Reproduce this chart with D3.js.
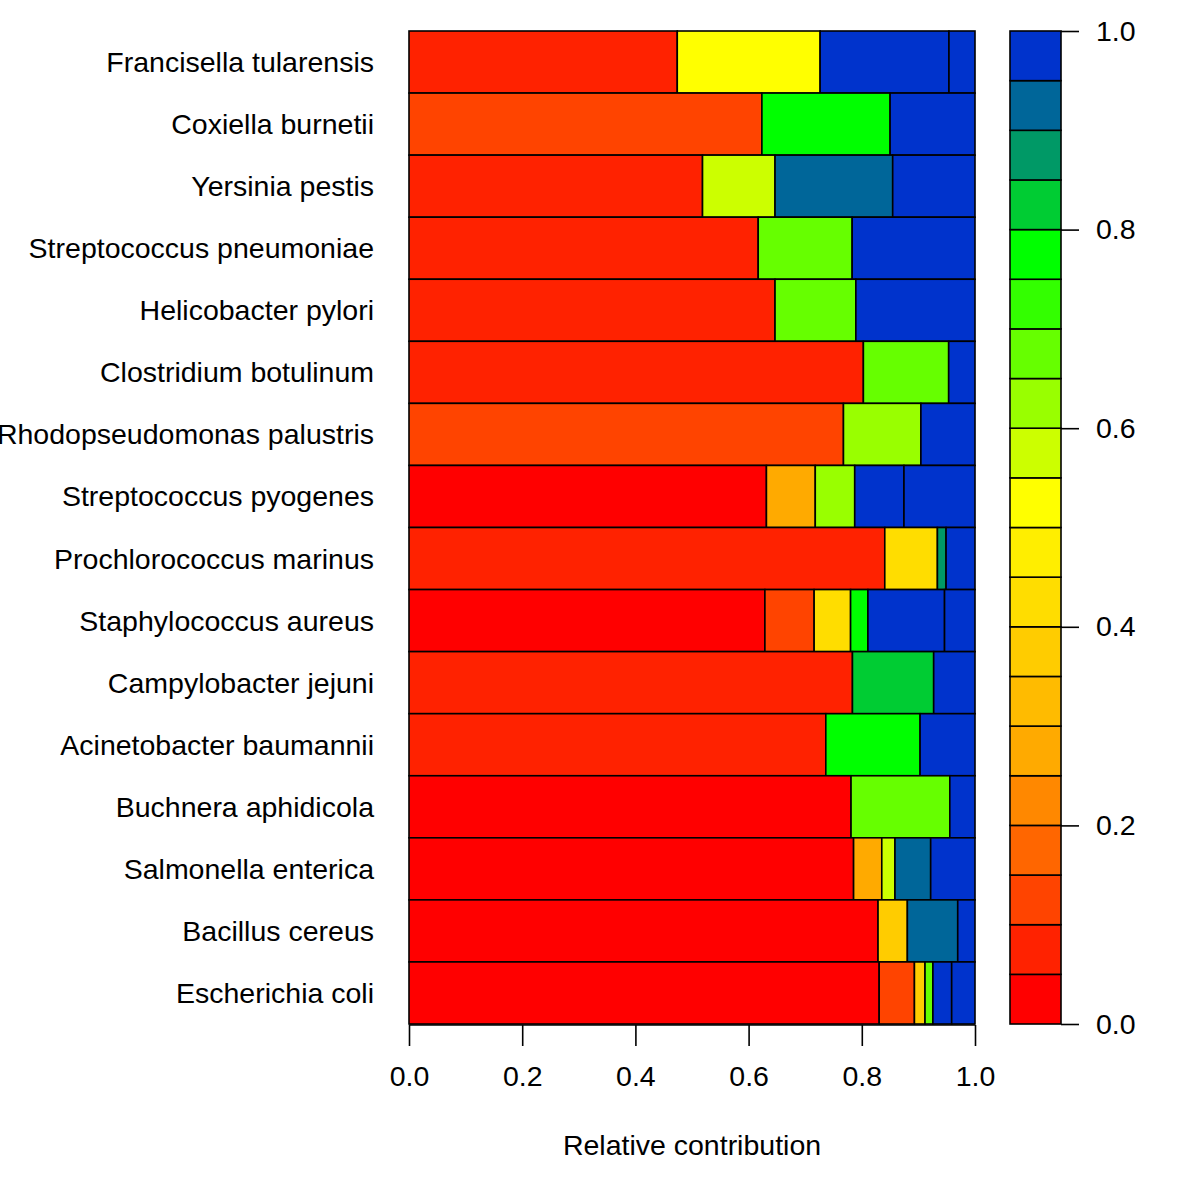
<!DOCTYPE html>
<html>
<head>
<meta charset="utf-8">
<script src="https://cdn.jsdelivr.net/npm/d3@7"></script>
<style>
  html, body { margin: 0; padding: 0; background: #fff; }
  svg { display: block; font-family: "Liberation Sans", Arial, Helvetica, sans-serif; }
</style>
</head>
<body>
<svg id="chart" width="1200" height="1200"></svg>
<script>
// ---- Data (top to bottom) ----
const species = [
  "Francisella tularensis", "Coxiella burnetii", "Yersinia pestis",
  "Streptococcus pneumoniae", "Helicobacter pylori", "Clostridium botulinum",
  "Rhodopseudomonas palustris", "Streptococcus pyogenes", "Prochlorococcus marinus",
  "Staphylococcus aureus", "Campylobacter jejuni", "Acinetobacter baumannii",
  "Buchnera aphidicola", "Salmonella enterica", "Bacillus cereus", "Escherichia coli"
];

// relative contribution of each segment (left to right)
const segWidths = [
  [0.474, 0.2524, 0.2276, 0.046],
  [0.6235, 0.2265, 0.150],
  [0.5186, 0.1281, 0.2079, 0.1454],
  [0.617, 0.166, 0.217],
  [0.6467, 0.1428, 0.2105],
  [0.8028, 0.1507, 0.0465],
  [0.7676, 0.1368, 0.0956],
  [0.6315, 0.0863, 0.0697, 0.087, 0.1255],
  [0.8406, 0.093, 0.0153, 0.0511],
  [0.6288, 0.087, 0.0644, 0.0306, 0.1354, 0.0538],
  [0.7835, 0.1435, 0.073],
  [0.7364, 0.1666, 0.097],
  [0.781, 0.1745, 0.0445],
  [0.7855, 0.0498, 0.0233, 0.0631, 0.0783],
  [0.8287, 0.0518, 0.089, 0.0305],
  [0.8307, 0.0623, 0.0187, 0.0139, 0.0332, 0.0412]
];

// score of each segment (drives colour through the colour bar)
const segScores = [
  [0.075, 0.525, 0.975, 0.975],
  [0.125, 0.775, 0.975],
  [0.075, 0.575, 0.925, 0.975],
  [0.075, 0.675, 0.975],
  [0.075, 0.675, 0.975],
  [0.075, 0.675, 0.975],
  [0.125, 0.625, 0.975],
  [0.025, 0.275, 0.625, 0.975, 0.975],
  [0.075, 0.425, 0.875, 0.975],
  [0.025, 0.125, 0.425, 0.775, 0.975, 0.975],
  [0.075, 0.825, 0.975],
  [0.075, 0.775, 0.975],
  [0.025, 0.675, 0.975],
  [0.025, 0.275, 0.575, 0.925, 0.975],
  [0.025, 0.375, 0.925, 0.975],
  [0.025, 0.125, 0.375, 0.675, 0.975, 0.975]
];

const palette = [
  "#FF0000", "#FF2200", "#FF4400", "#FF6600", "#FF8800",
  "#FFAA00", "#FFBB00", "#FFCC00", "#FFDD00", "#FFEE00",
  "#FFFF00", "#CCFF00", "#99FF00", "#66FF00", "#33FF00",
  "#00FF00", "#00CC33", "#009966", "#006699", "#0033CC"
];

const xTicks = [0, 0.2, 0.4, 0.6, 0.8, 1.0];
const colorTicks = [0, 0.2, 0.4, 0.6, 0.8, 1.0];
const xTitle = "Relative contribution";

// ---- Layout ----
const svg = d3.select("#chart");
const plot = { left: 409, right: 975, top: 31, bottom: 1024 };
const cbar = { left: 1010, right: 1061 };
const FS = 28.5;

const x = d3.scaleLinear().domain([0, 1]).range([plot.left, plot.right]);
const y = d3.scaleBand().domain(species).range([plot.top, plot.bottom]).padding(0);
const color = d3.scaleQuantize().domain([0, 1]).range(palette);

// bars
const rows = species.map((sp, i) => {
  const cum = d3.cumsum(segWidths[i]);
  return segWidths[i].map((w, j) => ({
    sp, x0: cum[j] - w, x1: cum[j], score: segScores[i][j]
  }));
});

svg.append("g")
  .selectAll("g")
  .data(rows)
  .join("g")
  .selectAll("rect")
  .data(d => d)
  .join("rect")
  .attr("x", d => x(d.x0))
  .attr("y", d => y(d.sp))
  .attr("width", d => x(d.x1) - x(d.x0))
  .attr("height", y.bandwidth())
  .attr("fill", d => color(d.score))
  .attr("stroke", "#000")
  .attr("stroke-width", 1.6);

// category labels
svg.append("g")
  .selectAll("text")
  .data(species)
  .join("text")
  .attr("x", plot.left - 35)
  .attr("y", d => y(d) + y.bandwidth() / 2)
  .attr("dy", "0.35em")
  .attr("text-anchor", "end")
  .attr("font-size", FS)
  .attr("fill", "#000")
  .text(d => d);

// x axis
const xAxis = d3.axisBottom(x)
  .tickValues(xTicks)
  .tickFormat(d3.format(".1f"))
  .tickSize(21)
  .tickPadding(20);
const gx = svg.append("g")
  .attr("transform", `translate(0,${plot.bottom + 1})`)
  .call(xAxis);
gx.select(".domain").attr("d", `M${plot.left},0H${plot.right}`).attr("stroke", "#000").attr("stroke-width", 1.6);
gx.selectAll(".tick line").attr("stroke", "#000").attr("stroke-width", 1.6);
gx.selectAll(".tick text").attr("font-size", FS).attr("fill", "#000")
  .attr("font-family", "Liberation Sans, Arial, sans-serif");

svg.append("text")
  .attr("x", (plot.left + plot.right) / 2)
  .attr("y", 1155)
  .attr("text-anchor", "middle")
  .attr("font-size", FS)
  .attr("fill", "#000")
  .text(xTitle);

// colour bar
const cy = d3.scaleLinear().domain([0, 1]).range([plot.bottom, plot.top]);
const bins = palette.map((c, i) => ({ lo: i / palette.length, hi: (i + 1) / palette.length }));
svg.append("g")
  .selectAll("rect")
  .data(bins)
  .join("rect")
  .attr("x", cbar.left)
  .attr("y", d => cy(d.hi))
  .attr("width", cbar.right - cbar.left)
  .attr("height", d => cy(d.lo) - cy(d.hi))
  .attr("fill", d => color((d.lo + d.hi) / 2))
  .attr("stroke", "#000")
  .attr("stroke-width", 1.6);

const cAxis = d3.axisRight(cy)
  .tickValues(colorTicks)
  .tickFormat(d3.format(".1f"))
  .tickSize(18)
  .tickPadding(17);
const gc = svg.append("g")
  .attr("transform", `translate(${cbar.right},0)`)
  .call(cAxis);
gc.select(".domain").remove();
gc.selectAll(".tick line").attr("stroke", "#000").attr("stroke-width", 1.6);
gc.selectAll(".tick text").attr("font-size", FS).attr("fill", "#000")
  .attr("font-family", "Liberation Sans, Arial, sans-serif");
</script>
</body>
</html>
